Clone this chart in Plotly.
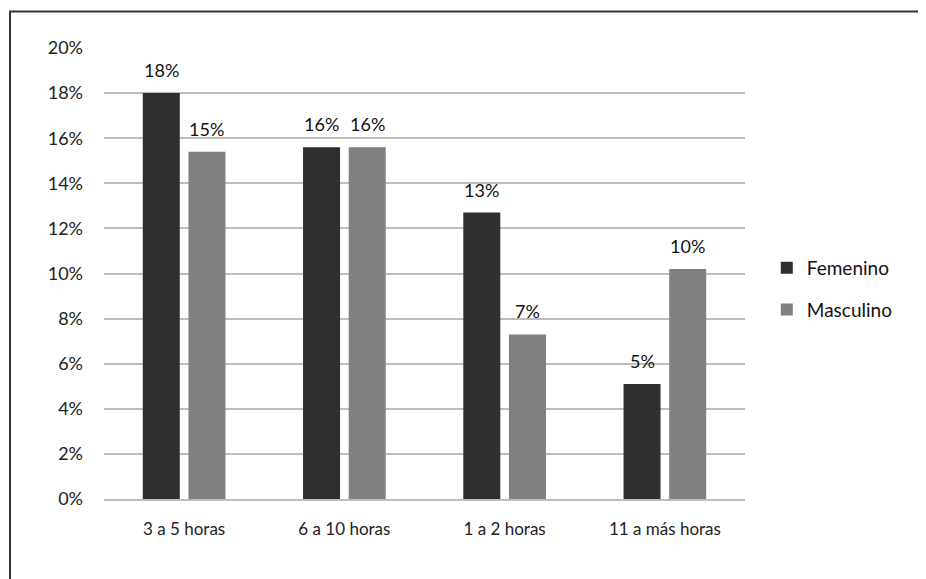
import plotly.graph_objects as go

categories = ["3 a 5 horas", "6 a 10 horas", "1 a 2 horas", "11 a más horas"]
femenino = [0.180, 0.156, 0.127, 0.051]
masculino = [0.154, 0.156, 0.073, 0.102]
series_names = ["Femenino", "Masculino"]
y_ticks = [i / 100 for i in range(0, 21, 2)]

FONT = "Lato, 'Open Sans', sans-serif"
colors = ["#2f2f2f", "#808080"]
# horizontal offset of each bar from its category centre (px)
bar_shift = [-22.75, 22.75]

fig = go.Figure()
for name, vals, col in zip(series_names, [femenino, masculino], colors):
    fig.add_trace(go.Bar(
        x=categories,
        y=vals,
        name=name,
        legendgroup=name,
        marker=dict(color=col, line=dict(width=0)),
        hovertemplate="%{x}: %{y:.1%}<extra>" + name + "</extra>",
    ))

# value labels sit a bit higher above the bars than plotly's own outside text
for vals, shift in zip([femenino, masculino], bar_shift):
    for cat, v in zip(categories, vals):
        fig.add_annotation(
            x=cat, y=v, text=f"{v:.0%}",
            xref="x", yref="y", showarrow=False,
            xanchor="center", yanchor="bottom",
            xshift=shift, yshift=10,
            font=dict(size=18, color="#111111", family=FONT),
        )

# the page body has an 8px margin, so the figure is 8px smaller each way
fig.update_layout(
    width=918,
    height=571,
    paper_bgcolor="white",
    plot_bgcolor="white",
    barmode="group",
    bargap=0.43,
    bargroupgap=0.19,
    margin=dict(l=96, r=181, t=39.5, b=80),
    font=dict(family=FONT, size=15, color="#222222"),
    showlegend=True,
    legend=dict(
        x=1.034, y=0.466, xanchor="left", yanchor="middle",
        font=dict(size=19, color="#111111"),
        tracegroupgap=14,
        traceorder="grouped",
        itemwidth=30,
    ),
)

fig.update_yaxes(
    range=[0, 0.20],
    tickvals=y_ticks,
    tickformat=".0%",
    showgrid=True,
    gridcolor="#bdbdbd",
    gridwidth=1.5,
    zeroline=False,
    showline=False,
    ticks="",
    ticklabelstandoff=20,
    tickfont=dict(size=18),
)
fig.update_xaxes(
    showline=True,
    linecolor="#bdbdbd",
    linewidth=1.5,
    ticks="",
    tickfont=dict(size=17),
    ticklabelstandoff=14,
)

# outer frame (cut off at right and bottom, as in the original)
fig.add_shape(
    type="rect", xref="paper", yref="paper",
    x0=-0.1466, x1=1.30, y0=-0.22, y1=1.0808,
    line=dict(color="#333333", width=2),
    fillcolor="rgba(0,0,0,0)", layer="below",
)

fig.write_html("out.html")
